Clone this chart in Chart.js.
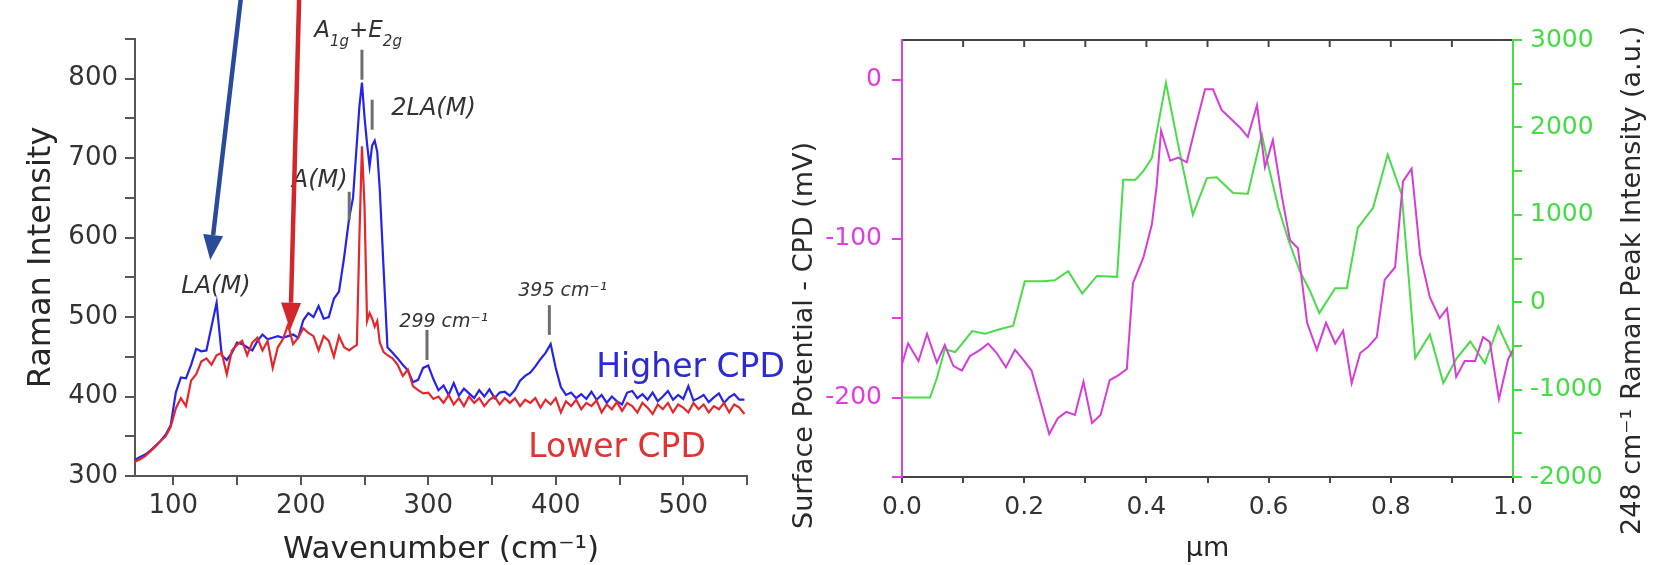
<!DOCTYPE html>
<html>
<head>
<meta charset="utf-8">
<script src="https://cdn.jsdelivr.net/npm/chart.js@4.4.1/dist/chart.umd.min.js"></script>
<style>
html,body{margin:0;padding:0;background:#fff;}
#wrap{position:relative;width:1675px;height:565px;overflow:hidden;background:#fff;}
#c1{position:absolute;left:0;top:0;}
#c2{position:absolute;left:780px;top:0;}
</style>
</head>
<body>
<div id="wrap">
<canvas id="c1" width="800" height="565"></canvas>
<canvas id="c2" width="895" height="565"></canvas>
</div>
<script>
// ---------- Left panel: Raman spectra ----------
const wavenumber = [70,74,78,82,86,90,94,98,102,106,110,114,118,122,126,130,134,138,142,146,150,154,158,162,166,170,174,178,182,186,190,194,198,202,206,210,214,218,222,226,230,234,238,
  241,244,246,248,250,252,254,256,258,260,262,265,268,
  272,276,280,284,288,292,296,300,304,308,312,316,320,324,328,332,336,340,344,348,352,356,360,364,368,372,376,380,384,388,392,396,400,404,408,412,416,420,424,428,432,436,440,444,448,452,456,460,464,468,472,476,480,484,488,492,496,500,504,508,512,516,520,524,528,532,536,540,544,548];
const higherCPD = [320,324,327,332,338,344,352,364,405,424,423,440,460,457,458,488,518,452,446,455,468,466,462,458,470,478,472,474,476,474,476,478,474,496,505,500,514,498,500,523,532,575,625,
  650,719,765,795,752,718,690,716,722,708,660,560,462,
  455,448,440,433,418,421,436,439,422,408,414,402,417,401,410,404,398,408,400,409,398,405,406,401,408,420,426,430,438,447,455,466,436,412,402,405,398,403,397,406,396,402,392,400,394,390,405,407,398,403,396,405,394,400,407,396,402,397,413,395,398,402,393,399,404,392,399,403,396,396];
const lowerCPD = [318,321,325,331,337,344,350,362,385,398,388,420,428,444,448,440,452,455,428,458,465,470,452,468,474,458,470,436,462,472,490,466,474,486,480,476,458,476,470,450,476,462,458,
  462,465,600,715,640,495,505,498,488,495,468,456,452,
  448,440,426,434,413,408,404,405,397,400,392,402,390,398,388,400,392,398,388,396,400,390,398,392,398,388,396,392,398,386,396,390,398,380,394,388,396,384,392,388,395,380,390,384,393,382,392,388,380,392,386,378,390,384,392,380,390,386,380,392,384,390,380,388,384,392,380,390,386,378];
const ramanXTicks = [100,150,200,250,300,350,400,450,500,550];
const ramanXTickLabels = [100,200,300,400,500];
const ramanYTicks = [300,350,400,450,500,550,600,650,700,750,800,850];
const ramanYTickLabels = [300,400,500,600,700,800];

// ---------- Right panel: line profiles ----------
const cpdX = [0.000,0.010,0.027,0.041,0.057,0.070,0.084,0.098,0.111,0.128,0.141,0.155,0.170,0.185,0.198,0.212,0.226,0.241,0.255,0.269,0.283,0.297,0.311,0.325,0.340,0.354,0.368,0.378,0.395,0.409,0.417,0.424,0.439,0.452,0.466,0.480,0.496,0.509,0.523,0.542,0.553,0.566,0.581,0.594,0.607,0.622,0.635,0.648,0.663,0.679,0.694,0.709,0.722,0.736,0.750,0.763,0.777,0.790,0.807,0.820,0.834,0.848,0.864,0.880,0.892,0.907,0.921,0.938,0.951,0.962,0.977,0.992,1.000];
const cpdMV = [-179,-166,-177,-160,-178,-167,-180,-183,-174,-170,-166,-172,-181,-170,-176,-183,-202,-223,-213,-209,-211,-190,-216,-211,-189,-186,-182,-128,-112,-91,-66,-32,-51,-49,-52,-30,-6,-6,-19,-26,-30,-36,-16,-55,-38,-74,-101,-106,-153,-170,-153,-166,-158,-191,-172,-168,-162,-126,-118,-64,-56,-110,-137,-150,-144,-187,-177,-177,-162,-165,-201,-176,-170];
const ramanX = [0.000,0.046,0.057,0.070,0.087,0.115,0.136,0.160,0.182,0.201,0.231,0.250,0.272,0.295,0.319,0.352,0.362,0.382,0.395,0.409,0.432,0.452,0.476,0.499,0.515,0.534,0.542,0.566,0.589,0.599,0.616,0.633,0.651,0.668,0.683,0.709,0.728,0.746,0.771,0.795,0.818,0.828,0.840,0.864,0.886,0.908,0.930,0.954,0.976,1.000];
const ramanPeak = [-1090,-1090,-870,-540,-570,-330,-360,-310,-270,240,240,250,355,100,300,290,1400,1400,1500,1650,2510,1800,1000,1420,1430,1300,1250,1240,1920,1580,1080,700,355,126,-125,160,160,850,1080,1690,1230,390,-640,-370,-925,-640,-450,-700,-275,-640];
const umTicks = [0,0.1,0.2,0.3,0.4,0.5,0.6,0.7,0.8,0.9,1.0];
const umTickLabels = ['0.0','','0.2','','0.4','','0.6','','0.8','','1.0'];
const cpdTicks = [-250,-200,-150,-100,-50,0];
const cpdTickLabels = [-200,-100,0];
const peakTicks = [-2000,-1500,-1000,-500,0,500,1000,1500,2000,2500,3000];
const peakTickLabels = [-2000,-1000,0,1000,2000,3000];

// ---------- Annotations (data units of left panel) ----------
const noteTexts = [
  {text:'LA(M)', x:106.3, y:530.5, size:24},
  {text:'A(M)', x:193, y:664, size:24},
  {text:'2LA(M)', x:271, y:754.7, size:24},
  {text:'299 cm\u207B\u00B9', x:277.3, y:487.7, size:19},
  {text:'395 cm\u207B\u00B9', x:370.6, y:526.7, size:19}
];
const peakMarks = [
  {x:248, y1:798.7, y2:836.5},
  {x:256, y1:735.8, y2:773.6},
  {x:238, y1:622.4, y2:657.7},
  {x:299, y1:446, y2:483.9},
  {x:395, y1:477.6, y2:515}
];
const seriesLabels = [
  {text:'Higher CPD', x:431.8, y:424.7, color:'#2b2bd4'},
  {text:'Lower CPD', x:378.4, y:323.9, color:'#e23232'}
];
const arrows = [
  {x1:153.3, y1:905, x2:129, y2:572, color:'#2a4a9c', head:25},
  {x1:198.8, y1:905, x2:191.8, y2:484, color:'#d3262b', head:27}
];

Chart.defaults.font.family = '"DejaVu Sans", sans-serif';

function drawArrow(ctx, x1, y1, x2, y2, color, w, headLen, headHalf) {
  const dx = x2 - x1, dy = y2 - y1, L = Math.hypot(dx, dy), ux = dx / L, uy = dy / L;
  const bx = x2 - ux * headLen, by = y2 - uy * headLen;
  ctx.strokeStyle = color; ctx.lineWidth = w; ctx.lineCap = 'butt';
  ctx.beginPath(); ctx.moveTo(x1, y1); ctx.lineTo(bx, by); ctx.stroke();
  ctx.fillStyle = color;
  ctx.beginPath(); ctx.moveTo(x2, y2);
  ctx.lineTo(bx - uy * headHalf, by + ux * headHalf);
  ctx.lineTo(bx + uy * headHalf, by - ux * headHalf);
  ctx.closePath(); ctx.fill();
}

const leftNotesPlugin = {
  id: 'leftNotes',
  afterDraw(chart) {
    const ctx = chart.ctx, xs = chart.scales.x, ys = chart.scales.y;
    ctx.save();
    ctx.strokeStyle = '#6e6e6e'; ctx.lineWidth = 3;
    for (const m of peakMarks) {
      const px = xs.getPixelForValue(m.x);
      ctx.beginPath(); ctx.moveTo(px, ys.getPixelForValue(m.y1)); ctx.lineTo(px, ys.getPixelForValue(m.y2)); ctx.stroke();
    }
    ctx.fillStyle = '#333'; ctx.textBaseline = 'alphabetic'; ctx.textAlign = 'left';
    for (const n of noteTexts) {
      ctx.font = 'italic ' + n.size + 'px "DejaVu Sans"';
      ctx.fillText(n.text, xs.getPixelForValue(n.x), ys.getPixelForValue(n.y));
    }
    let px = xs.getPixelForValue(210.6); const py = ys.getPixelForValue(852.9);
    const parts = [['A', 23, 0], ['1g', 15, 9], ['+E', 23, 0], ['2g', 15, 9]];
    for (const [t, s, dy] of parts) {
      ctx.font = 'italic ' + s + 'px "DejaVu Sans"';
      ctx.fillText(t, px, py + dy);
      px += ctx.measureText(t).width;
    }
    ctx.font = '33px "DejaVu Sans"';
    for (const l of seriesLabels) {
      ctx.fillStyle = l.color;
      ctx.fillText(l.text, xs.getPixelForValue(l.x), ys.getPixelForValue(l.y));
    }
    for (const a of arrows) {
      drawArrow(ctx, xs.getPixelForValue(a.x1), ys.getPixelForValue(a.y1),
        xs.getPixelForValue(a.x2), ys.getPixelForValue(a.y2), a.color, 4.5, a.head, 10);
    }
    ctx.restore();
  }
};

new Chart(document.getElementById('c1'), {
  type: 'line',
  data: {
    datasets: [
      {label: 'Lower CPD', data: wavenumber.map((w, i) => ({x: w, y: lowerCPD[i]})),
        borderColor: '#e6262a', borderWidth: 2.2, pointRadius: 0, tension: 0, order: 0},
      {label: 'Higher CPD', data: wavenumber.map((w, i) => ({x: w, y: higherCPD[i]})),
        borderColor: '#2424ec', borderWidth: 2.2, pointRadius: 0, tension: 0, order: 1}
    ]
  },
  options: {
    responsive: false, animation: false,
    layout: {padding: {left: 0, top: 39, right: 53, bottom: 0}},
    plugins: {legend: {display: false}, tooltip: {enabled: false}},
    scales: {
      x: {
        type: 'linear', min: 70, max: 550,
        afterBuildTicks: s => { s.ticks = ramanXTicks.map(v => ({value: v})); },
        afterFit: s => { s.height = 89; },
        ticks: {autoSkip: false, maxRotation: 0, padding: 6, color: '#333', font: {size: 26},
          callback: v => ramanXTickLabels.includes(v) ? String(v) : ''},
        grid: {drawOnChartArea: false, tickLength: 9, color: '#555', lineWidth: 2},
        border: {display: true, color: '#555', width: 2},
        title: {display: true, text: 'Wavenumber (cm\u207B\u00B9)', color: '#262626', font: {size: 31, lineHeight: 1}, padding: {top: 0, bottom: 0}}
      },
      y: {
        type: 'linear', min: 300, max: 850,
        afterBuildTicks: s => { s.ticks = ramanYTicks.map(v => ({value: v})); },
        afterFit: s => { s.width = 135; },
        ticks: {autoSkip: false, padding: 7, color: '#333', font: {size: 26},
          callback: v => ramanYTickLabels.includes(v) ? String(v) : ''},
        grid: {drawOnChartArea: false, tickLength: 10, color: '#555', lineWidth: 2},
        border: {display: true, color: '#555', width: 2},
        title: {display: true, text: 'Raman Intensity', color: '#262626', font: {size: 32, lineHeight: 1.2}, padding: {top: 22, bottom: 0}}
      }
    }
  },
  plugins: [leftNotesPlugin]
});

// ---------- Right chart ----------
const rightPanelPlugin = {
  id: 'rightPanel',
  afterDraw(chart) {
    const ctx = chart.ctx, a = chart.chartArea, xs = chart.scales.x;
    ctx.save();
    ctx.strokeStyle = '#444'; ctx.lineWidth = 2;
    for (const t of xs.ticks) {
      if (t.value <= 0.0001 || t.value >= 0.9999) continue;
      const px = xs.getPixelForValue(t.value);
      ctx.beginPath(); ctx.moveTo(px, a.top); ctx.lineTo(px, a.top + 7); ctx.stroke();
    }
    ctx.fillStyle = '#2a2a2a'; ctx.font = '27px "DejaVu Sans"';
    ctx.textAlign = 'center'; ctx.textBaseline = 'middle';
    ctx.save(); ctx.translate(a.left - 97, a.bottom - 141.5); ctx.rotate(-Math.PI / 2);
    ctx.fillText('Surface Potential - CPD (mV)', 0, 0); ctx.restore();
    ctx.save(); ctx.translate(a.right + 120, a.top + 240.5); ctx.rotate(-Math.PI / 2);
    ctx.fillText('248 cm\u207B\u00B9 Raman Peak Intensity (a.u.)', 0, 0); ctx.restore();
    ctx.restore();
  }
};

const MAG = '#e03ee0', GRN = '#44dd44';
new Chart(document.getElementById('c2'), {
  type: 'line',
  data: {
    datasets: [
      {label: 'CPD', data: cpdX.map((x, i) => ({x: x, y: cpdMV[i]})), yAxisID: 'y',
        borderColor: '#d83cd8', borderWidth: 2, pointRadius: 0, tension: 0, order: 0},
      {label: 'Raman', data: ramanX.map((x, i) => ({x: x, y: ramanPeak[i]})), yAxisID: 'y2',
        borderColor: '#48dc48', borderWidth: 2, pointRadius: 0, tension: 0, order: 1}
    ]
  },
  options: {
    responsive: false, animation: false,
    layout: {padding: {left: 0, top: 40, right: 0, bottom: 0}},
    plugins: {legend: {display: false}, tooltip: {enabled: false}},
    scales: {
      x: {
        type: 'linear', position: 'bottom', min: 0, max: 1,
        afterBuildTicks: s => { s.ticks = umTicks.map(v => ({value: v})); },
        afterFit: s => { s.height = 88; },
        ticks: {autoSkip: false, maxRotation: 0, padding: 9, color: '#333', font: {size: 25},
          callback: (v, i) => umTickLabels[i]},
        grid: {drawOnChartArea: false, tickLength: 6, color: '#444', lineWidth: 2},
        border: {display: true, color: '#444', width: 2},
        title: {display: true, text: '\u03BCm', color: '#262626', font: {size: 27, lineHeight: 1}, padding: {top: 0, bottom: 3}}
      },
      xTop: {
        type: 'linear', position: 'top', min: 0, max: 1,
        afterFit: s => { s.height = 0; },
        ticks: {display: false},
        grid: {drawOnChartArea: false, drawTicks: false},
        border: {display: true, color: '#444', width: 2}
      },
      y: {
        type: 'linear', position: 'left', min: -250, max: 25,
        afterBuildTicks: s => { s.ticks = cpdTicks.map(v => ({value: v})); },
        afterFit: s => { s.width = 122; },
        ticks: {autoSkip: false, padding: 10, color: MAG, font: {size: 25},
          callback: v => cpdTickLabels.includes(v) ? String(v) : ''},
        grid: {drawOnChartArea: false, tickLength: 10, color: MAG, lineWidth: 2},
        border: {display: true, color: MAG, width: 2}
      },
      y2: {
        type: 'linear', position: 'right', min: -2000, max: 3000,
        afterBuildTicks: s => { s.ticks = peakTicks.map(v => ({value: v})); },
        afterFit: s => { s.width = 162; },
        ticks: {autoSkip: false, padding: 8, color: GRN, font: {size: 25},
          callback: v => peakTickLabels.includes(v) ? String(v) : ''},
        grid: {drawOnChartArea: false, tickLength: 9, color: GRN, lineWidth: 2},
        border: {display: true, color: GRN, width: 2}
      }
    }
  },
  plugins: [rightPanelPlugin]
});
</script>
</body>
</html>
